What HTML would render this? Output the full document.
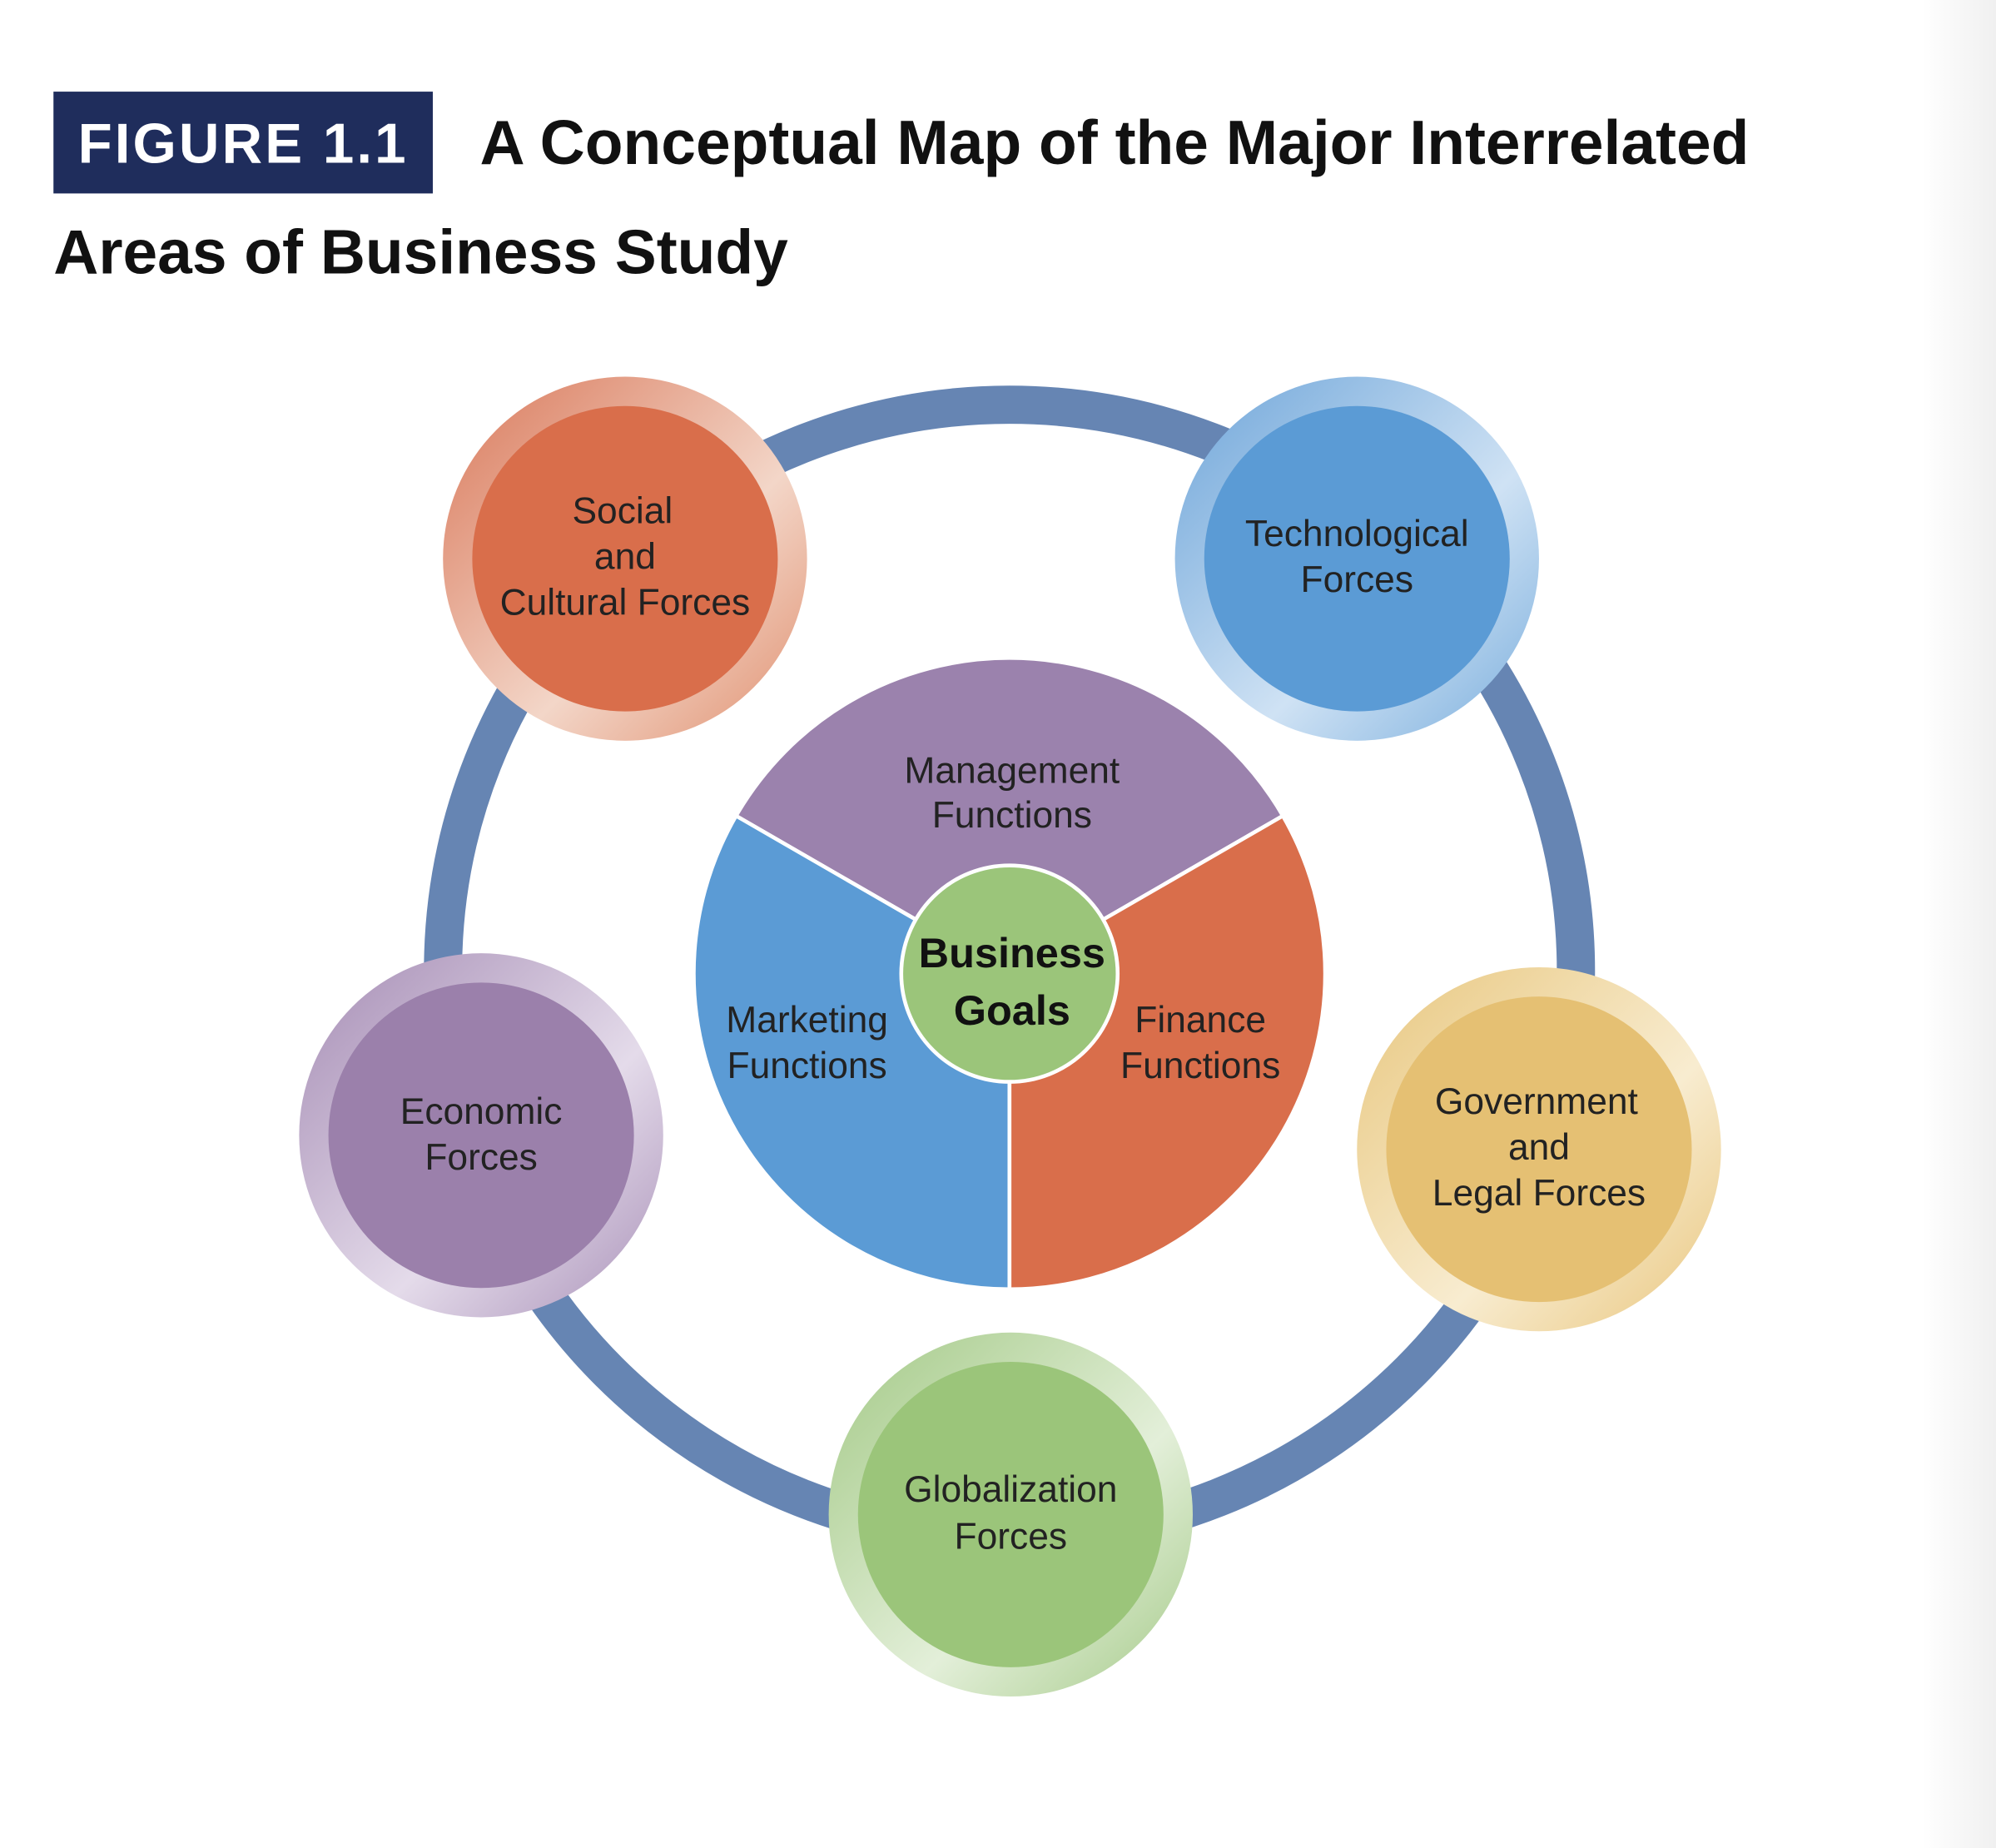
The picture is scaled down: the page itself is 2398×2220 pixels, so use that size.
<!DOCTYPE html>
<html><head><meta charset="utf-8"><style>
html,body{margin:0;padding:0;background:#fff;}
svg{display:block;}
text{font-family:"Liberation Sans",sans-serif;}
</style></head><body>
<svg width="2398" height="2220" viewBox="0 0 1568 1452" preserveAspectRatio="none" xmlns="http://www.w3.org/2000/svg">
<defs>
<linearGradient id="edge" x1="0" x2="1"><stop offset="0" stop-color="#fff"/><stop offset="1" stop-color="#f0f0f0"/></linearGradient>
<linearGradient id="gO" x1="0" y1="0" x2="1" y2="1"><stop offset="0" stop-color="#d9785a"/><stop offset="0.6" stop-color="#f3d6c8"/><stop offset="1" stop-color="#e09070"/></linearGradient>
<linearGradient id="gB" x1="0" y1="0" x2="1" y2="1"><stop offset="0" stop-color="#6ea5d9"/><stop offset="0.6" stop-color="#cfe2f4"/><stop offset="1" stop-color="#7aaedd"/></linearGradient>
<linearGradient id="gP" x1="0" y1="0" x2="1" y2="1"><stop offset="0" stop-color="#a58cb4"/><stop offset="0.6" stop-color="#e4dbea"/><stop offset="1" stop-color="#a991b8"/></linearGradient>
<linearGradient id="gY" x1="0" y1="0" x2="1" y2="1"><stop offset="0" stop-color="#e8c77f"/><stop offset="0.6" stop-color="#f8ecd0"/><stop offset="1" stop-color="#e9c67e"/></linearGradient>
<linearGradient id="gG" x1="0" y1="0" x2="1" y2="1"><stop offset="0" stop-color="#a3c986"/><stop offset="0.6" stop-color="#e3efd9"/><stop offset="1" stop-color="#a5ca89"/></linearGradient>
</defs>
<rect x="1510" y="0" width="58" height="1452" fill="url(#edge)"/>
<rect x="42" y="72" width="298" height="80" fill="#1f2d5c"/>
<text x="191" y="128" text-anchor="middle" font-size="44" font-weight="bold" fill="#fff" letter-spacing="2">FIGURE 1.1</text>
<text x="377" y="129" font-size="49" font-weight="bold" fill="#111">A Conceptual Map of the Major Interrelated</text>
<text x="42" y="215" font-size="49" font-weight="bold" fill="#111">Areas of Business Study</text>

<circle cx="793" cy="763" r="445" fill="none" stroke="#6685b3" stroke-width="30"/>

<!-- pie -->
<g stroke="#fff" stroke-width="3">
<path d="M793 765 L578.2 641 A248 248 0 0 1 1007.8 641 Z" fill="#9b82ad"/>
<path d="M793 765 L1007.8 641 A248 248 0 0 1 793 1013 Z" fill="#d96e4b"/>
<path d="M793 765 L793 1013 A248 248 0 0 1 578.2 641 Z" fill="#5b9bd5"/>
</g>
<circle cx="793" cy="765" r="85" fill="#9bc57a" stroke="#fff" stroke-width="3"/>
<g font-size="29" fill="#222" text-anchor="middle">
<text x="795" y="615">Management</text><text x="795" y="650">Functions</text>
<text x="634" y="811">Marketing</text><text x="634" y="847">Functions</text>
<text x="943" y="811">Finance</text><text x="943" y="847">Functions</text>
</g>
<text x="795" y="760" font-size="33" font-weight="bold" fill="#111" text-anchor="middle">Business</text>
<text x="795" y="805" font-size="33" font-weight="bold" fill="#111" text-anchor="middle">Goals</text>

<circle cx="491" cy="439" r="143" fill="url(#gO)"/><circle cx="491" cy="439" r="120" fill="#d96e4b"/>
<circle cx="1066" cy="439" r="143" fill="url(#gB)"/><circle cx="1066" cy="439" r="120" fill="#5b9bd5"/>
<circle cx="378" cy="892" r="143" fill="url(#gP)"/><circle cx="378" cy="892" r="120" fill="#9b80ab"/>
<circle cx="1209" cy="903" r="143" fill="url(#gY)"/><circle cx="1209" cy="903" r="120" fill="#e5c073"/>
<circle cx="794" cy="1190" r="143" fill="url(#gG)"/><circle cx="794" cy="1190" r="120" fill="#9bc57a"/>

<g font-size="29" fill="#222" text-anchor="middle">
<text x="489" y="411">Social</text><text x="491" y="447">and</text><text x="491" y="483">Cultural Forces</text>
<text x="1066" y="429">Technological</text><text x="1066" y="465">Forces</text>
<text x="378" y="883">Economic</text><text x="378" y="919">Forces</text>
<text x="1207" y="875">Government</text><text x="1209" y="911">and</text><text x="1209" y="947">Legal Forces</text>
<text x="794" y="1180">Globalization</text><text x="794" y="1217">Forces</text>
</g>
</svg>
</body></html>
